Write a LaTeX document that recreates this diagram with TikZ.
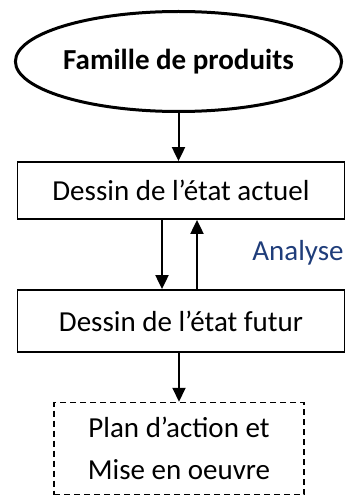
\documentclass[tikz,border=0pt]{standalone}
\usepackage{fontspec}
\setmainfont{Carlito}
\usetikzlibrary{shapes.geometric,arrows.meta}
\definecolor{analysenavy}{HTML}{1F3D7A}
\begin{document}
\begin{tikzpicture}[x=1pt,y=-1pt,
  txt/.style={font=\fontsize{29}{34}\selectfont},
  ell/.style={ellipse, draw, line width=3pt, minimum width=324pt, minimum height=100pt, inner sep=0pt, font=\fontsize{29}{34}\selectfont\bfseries},
  box/.style={rectangle, draw, line width=1.8pt, minimum width=327pt, inner sep=0pt, txt},
  dbox/.style={rectangle, draw, line width=1.5pt, dash pattern=on 6pt off 4pt, minimum width=250pt, minimum height=92pt, align=center, inner sep=0pt, font=\fontsize{29}{42}\selectfont},
  arr/.style={line width=2pt, -{Triangle[width=13pt,length=14pt]}}]
\useasboundingbox (0,0) rectangle (355,497);
\node[ell] (fam) at (178.5,61.5) {Famille de produits};
\node[box, minimum height=57pt] (act) at (181,190.5) {Dessin de l’état actuel};
\node[box, minimum height=62pt] (fut) at (181,321) {Dessin de l’état futur};
\node[dbox] (plan) at (179,448.5) {Plan d’action et\\Mise en oeuvre};
\node[txt, text=analysenavy] (ana) at (298,253) {Analyse};
\draw[arr] (fam.south) -- (fam.south |- act.north);
\draw[arr] ([xshift=-19pt]act.south) -- ([xshift=-19pt]act.south |- fut.north);
\draw[arr] ([xshift=16pt]fut.north) -- ([xshift=16pt]fut.north |- act.south);
\draw[arr] (fut.south -| plan.north) -- (plan.north);
\end{tikzpicture}
\end{document}
